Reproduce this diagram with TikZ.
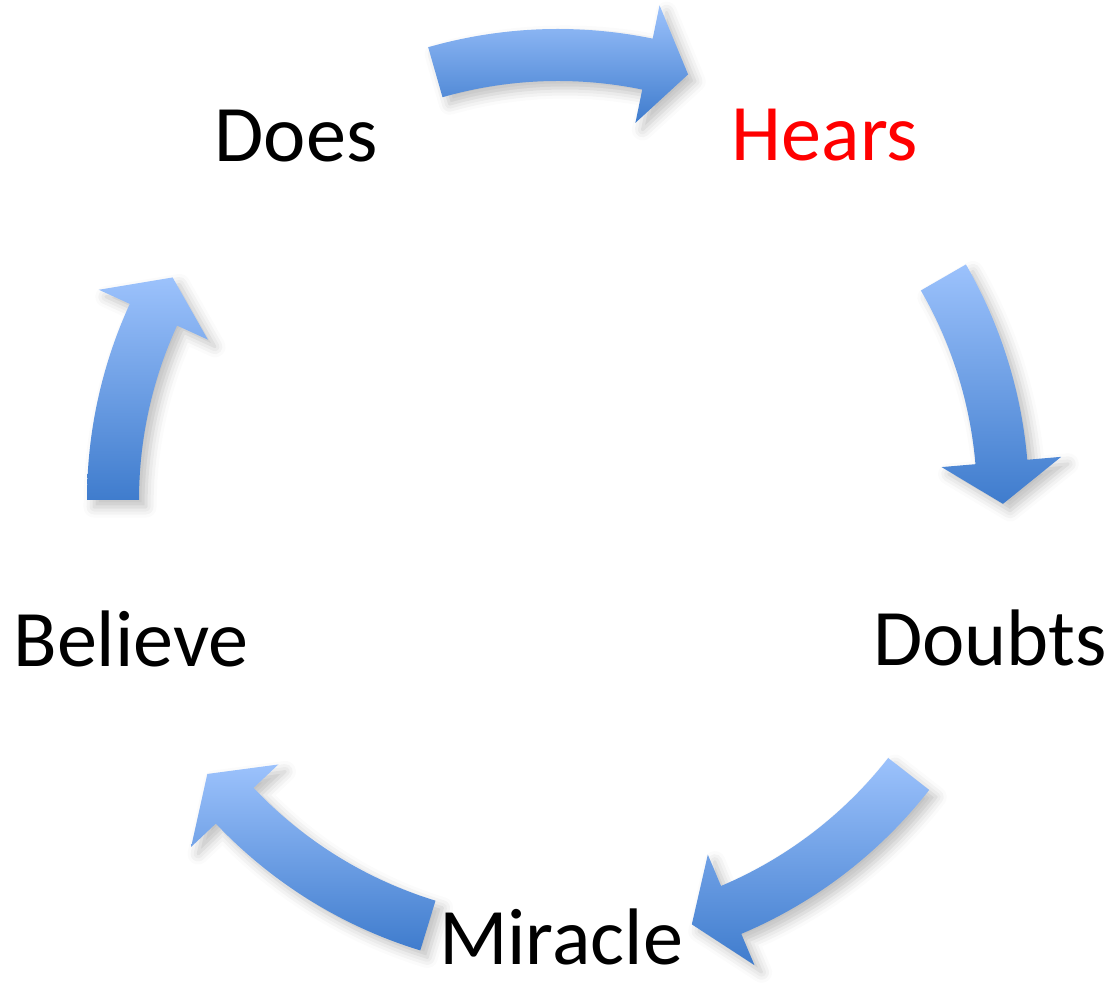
\documentclass[tikz,border=0pt]{standalone}
\usepackage{fontspec}
\setmainfont{Carlito}
\usetikzlibrary{shadows.blur}
\definecolor{arrowtop}{HTML}{9CC2FC}
\definecolor{arrowbot}{HTML}{3F7CCD}
\begin{document}
\begin{tikzpicture}[x=0.01cm,y=0.01cm,
  cyclearrow/.style={top color=arrowtop,bottom color=arrowbot,draw=none,
    blur shadow={shadow xshift=2pt,shadow yshift=-2pt,shadow opacity=25,shadow blur radius=3pt}},
  lbl/.style={font=\fontsize{22.8}{27}\selectfont,anchor=base,inner sep=0pt}]
  \useasboundingbox (0,0) rectangle (1112,986);
  % curved block arrows round the cycle
  \begin{scope}[shift={(558,486)}]
    \foreach \a/\b in {106/73, 30/-0.5, -38/-72.5, -107/-142, 180/150}{
      \pgfmathsetmacro\h{\b+5.4}
      \path[cyclearrow] (\a:471) arc[start angle=\a,end angle=\h,radius=471]
        -- (\h:505) -- (\b:445) -- (\h:385) -- (\h:419)
        arc[start angle=\h,end angle=\a,radius=419] -- cycle;
    }
  \end{scope}
  % labels
  \node[lbl] (does) at (296,824) {Does};
  \node[lbl,red] (hears) at (825,825) {Hears};
  \node[lbl] (doubts) at (990,320) {Doubts};
  \node[lbl] (miracle) at (561,21) {Miracle};
  \node[lbl] (believe) at (131,319) {Believe};
\end{tikzpicture}
\end{document}
